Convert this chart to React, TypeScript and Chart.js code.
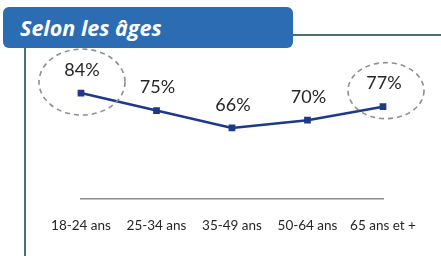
import React, { useEffect, useRef } from "react";
import { Chart, registerables } from "chart.js";

Chart.register(...registerables);

const categories = ["18-24 ans", "25-34 ans", "35-49 ans", "50-64 ans", "65 ans et +"];
const values = [84, 75, 66, 70, 77];
const valueLabels = ["84%", "75%", "66%", "70%", "77%"];
const highlighted = [0, 4];
const title = "Selon les âges";

const FONT = "Lato, 'Open Sans', sans-serif";

const overlayPlugin = {
  id: "overlay",
  afterDatasetsDraw(chart: any) {
    const ctx = chart.ctx;
    const meta = chart.getDatasetMeta(0);
    ctx.save();
    // value labels
    ctx.fillStyle = "#262626";
    ctx.font = `18px ${FONT}`;
    ctx.textAlign = "center";
    ctx.textBaseline = "middle";
    meta.data.forEach((pt: any, i: number) => {
      ctx.fillText(valueLabels[i], pt.x + 1, pt.y - 23);
    });
    // dashed ellipses
    ctx.strokeStyle = "#8a8f94";
    ctx.lineWidth = 1.6;
    ctx.setLineDash([5, 4]);
    highlighted.forEach((i, k) => {
      const pt = meta.data[i];
      const dims = k === 0 ? { dx: 1, dy: -11, rx: 43, ry: 33 } : { dx: 3, dy: -16, rx: 38, ry: 28 };
      ctx.beginPath();
      ctx.ellipse(pt.x + dims.dx, pt.y + dims.dy, dims.rx, dims.ry, 0, 0, Math.PI * 2);
      ctx.stroke();
    });
    ctx.restore();
  },
};

export default function App() {
  const canvasRef = useRef<HTMLCanvasElement | null>(null);

  useEffect(() => {
    if (!canvasRef.current) return;
    const chart = new Chart(canvasRef.current, {
      type: "line",
      data: {
        labels: categories,
        datasets: [
          {
            data: values,
            borderColor: "#1d3a8a",
            backgroundColor: "#1d3a8a",
            borderWidth: 2.5,
            pointStyle: "rect",
            pointRadius: 3,
            pointHoverRadius: 3,
            tension: 0,
          },
        ],
      },
      options: {
        animation: false,
        responsive: false,
        maintainAspectRatio: false,
        events: [],
        layout: { padding: { left: 81, right: 58, top: 50, bottom: 3 } },
        plugins: { legend: { display: false }, tooltip: { enabled: false } },
        scales: {
          x: {
            offset: false,
            grid: { display: false, drawTicks: false },
            border: { display: true, color: "#8c8c8c", width: 1.5 },
            ticks: {
              color: "#262626",
              font: { family: FONT, size: 13.5 },
              padding: 19,
              maxRotation: 0,
              autoSkip: false,
            },
          },
          y: {
            display: false,
            min: 29.5,
            max: 106.2,
          },
        },
      },
      plugins: [overlayPlugin],
    });
    return () => chart.destroy();
  }, []);

  return (
    <div style={{ position: "fixed", left: 0, top: 0, width: 441, height: 256, background: "#ffffff", overflow: "hidden" }}>
      <div style={{ position: "absolute", left: 24, top: 48, width: 2, height: 208, background: "#4a7078" }} />
      <div style={{ position: "absolute", left: 290, top: 34, width: 151, height: 2, background: "#4a7078" }} />
      <canvas ref={canvasRef} width={441} height={256} style={{ position: "absolute", left: 0, top: 0 }} />
      <div
        style={{
          position: "absolute",
          left: 3,
          top: 7,
          width: 290,
          height: 41,
          background: "#2b6cb3",
          borderRadius: 6,
          boxSizing: "border-box",
          paddingLeft: 17,
          color: "#ffffff",
          fontFamily: "'Open Sans', sans-serif",
          fontStyle: "italic",
          fontWeight: 700,
          fontSize: 21.5,
          lineHeight: "42px",
        }}
      >
        {title}
      </div>
    </div>
  );
}
